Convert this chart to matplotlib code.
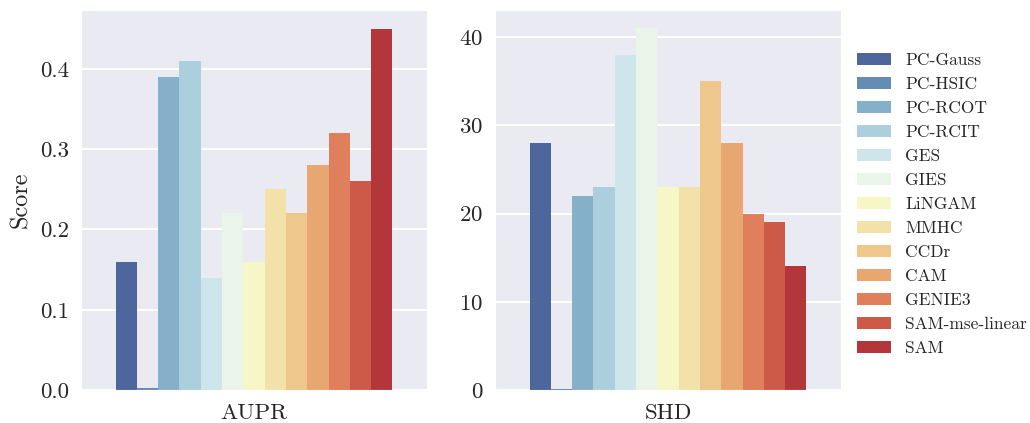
import matplotlib
matplotlib.use("Agg")
import matplotlib.pyplot as plt
import numpy as np
import seaborn as sns

methods = ["PC-Gauss", "PC-HSIC", "PC-RCOT", "PC-RCIT", "GES", "GIES", "LiNGAM",
           "MMHC", "CCDr", "CAM", "GENIE3", "SAM-mse-linear", "SAM"]
aupr = [0.16, 0.002, 0.39, 0.41, 0.14, 0.22, 0.16, 0.25, 0.22, 0.28, 0.32, 0.26, 0.45]
shd = [28, 0.1, 22, 23, 38, 41, 23, 23, 35, 28, 20, 19, 14]

sns.set_style("darkgrid")
plt.rcParams["font.family"] = ["cmr10", "DejaVu Serif"]
plt.rcParams["axes.formatter.use_mathtext"] = True
plt.rcParams["mathtext.fontset"] = "cm"

colors = [sns.desaturate(c, 0.75) for c in sns.color_palette("RdYlBu_r", len(methods))]

fig = plt.figure(figsize=(10.3, 4.23), dpi=100)
ax1 = fig.add_axes([81 / 1030, 33 / 423, 346 / 1030, 380 / 423])
ax2 = fig.add_axes([495 / 1030, 33 / 423, 346 / 1030, 380 / 423])

n = len(methods)
w = 0.8 / n
offs = -0.4 + w / 2 + w * np.arange(n)

for ax, vals, name, top in [(ax1, aupr, "AUPR", 0.4735), (ax2, shd, "SHD", 43.06)]:
    for i in range(n):
        ax.bar(offs[i], vals[i], width=w, color=colors[i], label=methods[i], linewidth=0)
    ax.set_xlim(-0.5, 0.5)
    ax.set_ylim(0, top)
    ax.set_xticks([0])
    ax.set_xticklabels([name])
    ax.tick_params(labelsize=16.5)
    ax.tick_params(axis="x", pad=6)
    ax.tick_params(axis="y", pad=5)
    ax.grid(axis="x", visible=False)
    ax.grid(axis="y", linewidth=1.5)

ax1.set_yticks([0.0, 0.1, 0.2, 0.3, 0.4])
ax1.set_yticklabels(["0.0", "0.1", "0.2", "0.3", "0.4"])
ax2.set_yticks([0, 10, 20, 30, 40])
ax1.set_ylabel("Score", fontsize=17.5, labelpad=6)

ax2.legend(loc="upper left", bbox_to_anchor=(1.0, 0.929), frameon=False,
           fontsize=12.5, handlelength=2.0, handleheight=0.7)

fig.savefig("out.png", dpi=100)
